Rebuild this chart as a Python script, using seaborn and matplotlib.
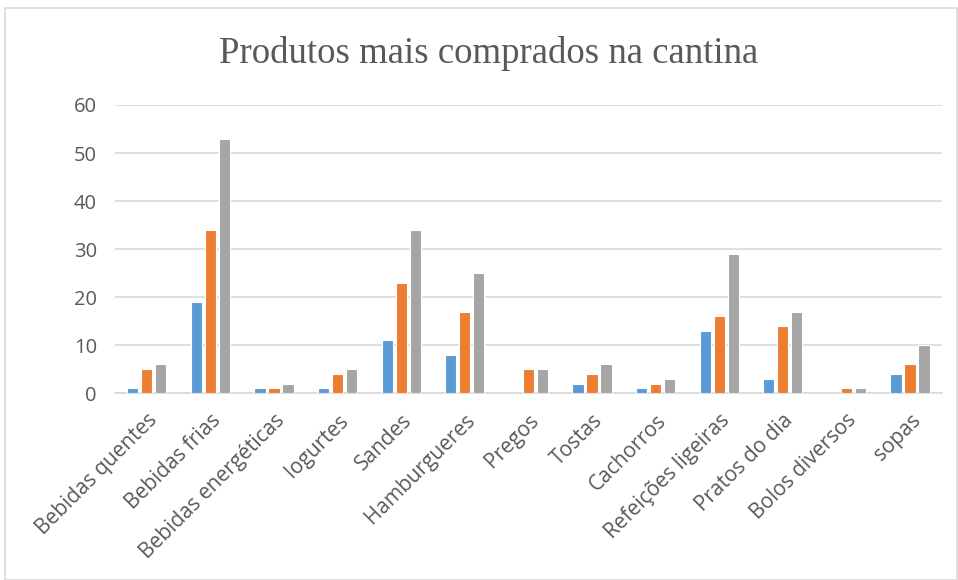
import pandas as pd
import matplotlib.pyplot as plt
import seaborn as sns
from matplotlib.patches import Rectangle

# Dados
produtos = ['Bebidas quentes', 'Bebidas frias', 'Bebidas energéticas', 'Iogurtes',
            'Sandes', 'Hamburgueres', 'Pregos', 'Tostas', 'Cachorros',
            'Refeições ligeiras', 'Pratos do dia', 'Bolos diversos', 'sopas']
serie1 = [1, 19, 1, 1, 11, 8, 0, 2, 1, 13, 3, 0, 4]
serie2 = [5, 34, 1, 4, 23, 17, 5, 4, 2, 16, 14, 1, 6]
serie3 = [6, 53, 2, 5, 34, 25, 5, 6, 3, 29, 17, 1, 10]
series = ['Série 1', 'Série 2', 'Série 3']
cores = ['#5B9BD5', '#ED7D31', '#A5A5A5']

df = pd.DataFrame({
    'produto': produtos * 3,
    'valor': serie1 + serie2 + serie3,
    'serie': [s for s in series for _ in produtos],
})

sns.set_style('white')
plt.rcParams['font.family'] = ['Open Sans', 'DejaVu Sans']

fig = plt.figure(figsize=(9.58, 5.8), dpi=100)
ax = fig.add_axes([0.12, 0.322, 0.863, 0.497])

sns.barplot(data=df, x='produto', y='valor', hue='serie', palette=cores,
            saturation=1, width=0.66, gap=0.2, edgecolor='white', linewidth=0.8,
            legend=False, ax=ax, zorder=3)

ax.set_ylim(0, 60)
ax.set_yticks(range(0, 61, 10))
ax.set_xlim(-0.5, len(produtos) - 0.5)
ax.yaxis.grid(True, color='#D9D9D9', linewidth=1.2, zorder=0)
ax.set_axisbelow(True)
for s in ['top', 'right', 'left']:
    ax.spines[s].set_visible(False)
ax.spines['bottom'].set_color('#D9D9D9')
ax.spines['bottom'].set_linewidth(1.2)
ax.set_xlabel('')
ax.set_ylabel('')
ax.tick_params(axis='both', length=0, colors='#595959')
ax.tick_params(axis='y', pad=13, labelsize=14.5)
ax.tick_params(axis='x', pad=12, labelsize=15)
plt.setp(ax.get_xticklabels(), rotation=45, ha='right', rotation_mode='anchor')

fig.text(0.51, 0.908, 'Produtos mais comprados na cantina', ha='center', va='center',
         fontsize=26.5, color='#595959', family=['Liberation Serif', 'DejaVu Serif'])

# moldura da área do gráfico
fig.patches.append(Rectangle((0.005, 0.0), 0.994, 0.986, transform=fig.transFigure,
                             fill=False, edgecolor='#D9D9D9', linewidth=1.2))

fig.savefig('out.png', dpi=100)
